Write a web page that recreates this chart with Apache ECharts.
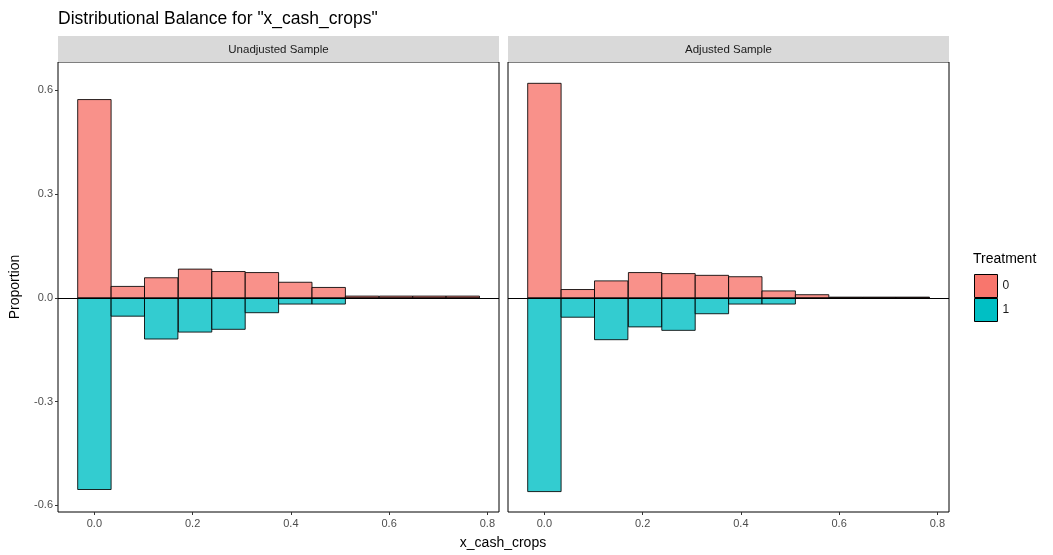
<!DOCTYPE html>
<html>
<head>
<meta charset="utf-8">
<script src="https://cdn.jsdelivr.net/npm/echarts@6/dist/echarts.min.js"></script>
<style>
html,body{margin:0;padding:0;background:#fff;}
#chart{width:1053px;height:555px;}
</style>
</head>
<body>
<div id="chart"></div>
<script>
// ---- data ----
const binCenters = [0, 0.068, 0.136, 0.205, 0.273, 0.341, 0.409, 0.477, 0.545, 0.614, 0.682, 0.75];
const unadjT0 = [0.573, 0.033, 0.058, 0.083, 0.076, 0.073, 0.045, 0.030, 0.005, 0.005, 0.005, 0.005];
const unadjT1 = [0.554, 0.053, 0.119, 0.099, 0.091, 0.043, 0.018, 0.018, 0, 0, 0, 0];
const adjT0 = [0.620, 0.024, 0.049, 0.073, 0.070, 0.065, 0.061, 0.020, 0.009, 0.002, 0.002, 0.002];
const adjT1 = [0.560, 0.056, 0.121, 0.084, 0.094, 0.046, 0.018, 0.018, 0, 0, 0, 0];
const panels = ["Unadjusted Sample", "Adjusted Sample"];
const treatments = ["0", "1"];
const xTicks = [0, 0.2, 0.4, 0.6, 0.8];
const yTicks = [-0.6, -0.3, 0, 0.3, 0.6];

// ---- styling ----
const BIN_W = 0.068;
const FONT = "'Liberation Sans', Arial, sans-serif";
const fill0 = 'rgba(248,118,109,0.8)';
const fill1 = 'rgba(0,191,196,0.8)';

const chart = echarts.init(document.getElementById('chart'));

function histSeries(name, vals, sign, idx, color) {
  const s = {
    type: 'custom',
    name: name,
    xAxisIndex: idx,
    yAxisIndex: idx,
    itemStyle: { color: color },
    data: binCenters.map((c, i) => [c, sign * vals[i]]),
    renderItem: function (params, api) {
      const x = api.value(0), y = api.value(1);
      const p0 = api.coord([x - BIN_W / 2, 0]);
      const p1 = api.coord([x + BIN_W / 2, y]);
      return {
        type: 'rect',
        shape: {
          x: p0[0], y: Math.min(p0[1], p1[1]),
          width: p1[0] - p0[0], height: Math.abs(p1[1] - p0[1])
        },
        style: { fill: color, stroke: 'rgba(0,0,0,0.85)', lineWidth: 1 }
      };
    },
    z: 2
  };
  if (sign > 0) {
    s.markLine = {
      silent: true, symbol: 'none', label: { show: false },
      lineStyle: { color: '#000', width: 1, type: 'solid' },
      data: [{ yAxis: 0 }]
    };
  }
  return s;
}

const grids = [
  { left: 58, top: 62, width: 441, height: 450, show: true, borderColor: '#000', borderWidth: 1, backgroundColor: '#fff' },
  { left: 508, top: 62, width: 441, height: 450, show: true, borderColor: '#000', borderWidth: 1, backgroundColor: '#fff' }
];

function xAxisFor(i) {
  return {
    type: 'value', gridIndex: i, min: -0.0741, max: 0.8237, position: 'bottom',
    splitLine: { show: false },
    axisLine: { show: false, onZero: false },
    axisTick: { show: true, inside: false, customValues: xTicks, length: 3, lineStyle: { color: '#333' } },
    axisLabel: { show: true, customValues: xTicks, formatter: v => v.toFixed(1), color: '#4d4d4d', fontSize: 11, fontFamily: FONT, margin: 6 }
  };
}
function yAxisFor(i) {
  return {
    type: 'value', gridIndex: i, min: -0.619, max: 0.6816, position: 'left',
    splitLine: { show: false },
    axisLine: { show: false, onZero: false },
    axisTick: { show: i === 0, inside: false, customValues: yTicks, length: 3, lineStyle: { color: '#333' } },
    axisLabel: { show: i === 0, customValues: yTicks, formatter: v => v.toFixed(1), color: '#4d4d4d', fontSize: 11, fontFamily: FONT, margin: 5 },
    name: i === 0 ? 'Proportion' : '',
    nameLocation: 'middle', nameGap: 36, nameRotate: 90,
    nameTextStyle: { color: '#000', fontSize: 14, fontFamily: FONT }
  };
}

const stripGraphics = [];
panels.forEach((p, i) => {
  const left = grids[i].left;
  stripGraphics.push({
    type: 'rect', shape: { x: left, y: 36, width: 441, height: 26 },
    style: { fill: '#d9d9d9' }, silent: true
  });
  stripGraphics.push({
    type: 'text', x: left + 220.5, y: 50,
    style: { text: p, fill: '#1a1a1a', fontSize: 11.5, fontFamily: FONT, align: 'center', verticalAlign: 'middle' },
    silent: true
  });
});
stripGraphics.push({
  type: 'text', x: 503, y: 543,
  style: { text: 'x_cash_crops', fill: '#000', fontSize: 14, fontFamily: FONT, align: 'center', verticalAlign: 'middle' },
  silent: true
});
stripGraphics.push({
  type: 'text', x: 973, y: 259,
  style: { text: 'Treatment', fill: '#000', fontSize: 14, fontFamily: FONT, align: 'left', verticalAlign: 'middle' },
  silent: true
});

chart.setOption({
  animation: false,
  backgroundColor: '#fff',
  title: {
    text: 'Distributional Balance for "x_cash_crops"',
    left: 53, top: 5,
    textStyle: { color: '#000', fontSize: 17.5, fontWeight: 'normal', fontFamily: FONT }
  },
  legend: {
    orient: 'vertical', left: 974, top: 274, padding: 0,
    itemWidth: 23, itemHeight: 23, itemGap: 0,
    icon: 'rect',
    textStyle: { color: '#1a1a1a', fontSize: 12, fontFamily: FONT },
    data: [
      { name: treatments[0], itemStyle: { color: '#F8766D', borderColor: '#000', borderWidth: 1, opacity: 1 } },
      { name: treatments[1], itemStyle: { color: '#00BFC4', borderColor: '#000', borderWidth: 1, opacity: 1 } }
    ],
    selectedMode: false
  },
  grid: grids,
  xAxis: [xAxisFor(0), xAxisFor(1)],
  yAxis: [yAxisFor(0), yAxisFor(1)],
  graphic: stripGraphics,
  series: [
    histSeries(treatments[1], unadjT1, -1, 0, fill1),
    histSeries(treatments[0], unadjT0, 1, 0, fill0),
    histSeries(treatments[1], adjT1, -1, 1, fill1),
    histSeries(treatments[0], adjT0, 1, 1, fill0)
  ]
});
</script>
</body>
</html>
